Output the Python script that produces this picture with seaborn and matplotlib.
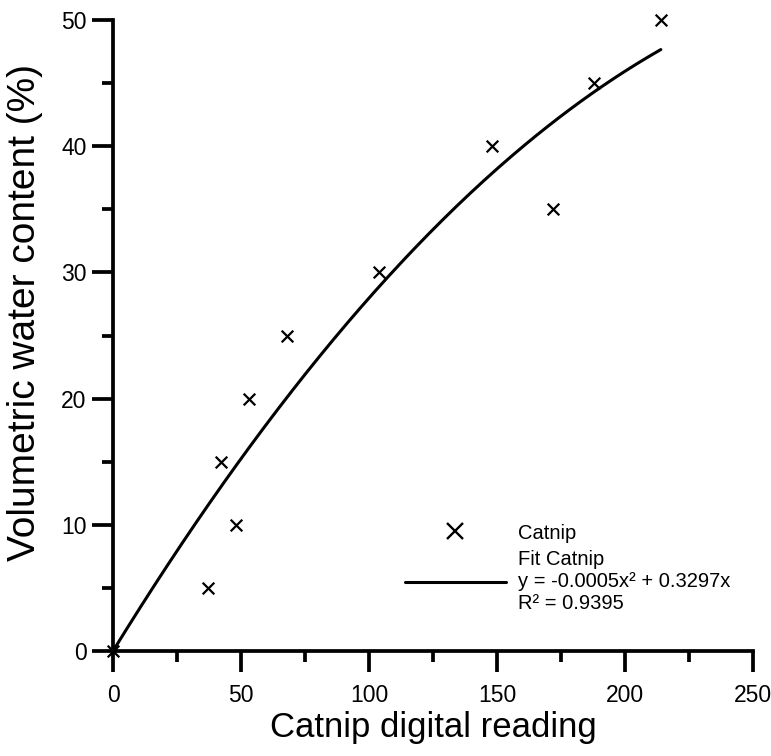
import numpy as np
import pandas as pd
import matplotlib
matplotlib.use("Agg")
import matplotlib.pyplot as plt
import seaborn as sns
from matplotlib.lines import Line2D
from matplotlib.ticker import MultipleLocator

# Data
reading = [0, 37, 42, 48, 53, 68, 104, 148, 172, 188, 214]
vwc = [0, 5, 15, 10, 20, 25, 30, 40, 35, 45, 50]
# Fit coefficients as printed in the legend
fit_a = -0.0005
fit_b = 0.3297
r2 = 0.9395
x_label = "Catnip digital reading"
y_label = "Volumetric water content (%)"

sns.set_style("white")
plt.rcParams['font.family'] = ['Liberation Sans', 'DejaVu Sans']
plt.rcParams['text.color'] = 'black'
plt.rcParams['axes.labelcolor'] = 'black'
plt.rcParams['xtick.color'] = 'black'
plt.rcParams['ytick.color'] = 'black'

fig = plt.figure(figsize=(7.71, 7.56), dpi=100)
ax = fig.add_axes([113/771, 1-651/756, 640/771, 631/756])

df = pd.DataFrame({"reading": reading, "vwc": vwc})
xf = np.linspace(0, max(reading), 200)
fit_df = pd.DataFrame({"x": xf, "y": fit_a*xf**2 + fit_b*xf})

sns.lineplot(data=fit_df, x="x", y="y", ax=ax, color="black", linewidth=2.2)
sns.scatterplot(data=df, x="reading", y="vwc", ax=ax, marker="x", color="black",
                s=70, linewidth=1.6, clip_on=False, zorder=5)

ax.set_xlim(0, 250)
ax.set_ylim(0, 50)
ax.xaxis.set_major_locator(MultipleLocator(50))
ax.xaxis.set_minor_locator(MultipleLocator(25))
ax.yaxis.set_major_locator(MultipleLocator(10))
ax.yaxis.set_minor_locator(MultipleLocator(5))

for s in ["top", "right"]:
    ax.spines[s].set_visible(False)
for s in ["left", "bottom"]:
    ax.spines[s].set_linewidth(2.7)
    ax.spines[s].set_color("black")

ax.tick_params(axis="both", which="major", direction="out", length=15, width=2.7,
               color="black", labelcolor="black", labelsize=16.5, bottom=True, left=True)
ax.tick_params(axis="both", which="minor", direction="out", length=8, width=2.7,
               color="black", bottom=True, left=True)
ax.tick_params(axis="x", which="major", pad=9)
ax.tick_params(axis="y", which="major", pad=4)

ax.set_xlabel(x_label, fontsize=25, labelpad=3, color="black")
ax.set_ylabel(y_label, fontsize=28, color="black")
ax.yaxis.set_label_coords(-0.11, 0.537)

handles = [
    Line2D([], [], marker="x", linestyle="none", color="black", markersize=12, markeredgewidth=1.7),
    Line2D([], [], color="black", linewidth=2.2),
]
labels = ["Catnip",
          f"Fit Catnip\ny = {fit_a:.4f}x\u00b2 + {fit_b:.4f}x\nR\u00b2 = {r2:.4f}"]
leg = ax.legend(handles, labels, loc="upper left", bbox_to_anchor=(0.456, 0.202),
                frameon=False, fontsize=14.5, handlelength=5.0, handletextpad=0.6,
                labelspacing=0.35, borderpad=0, borderaxespad=0)
for t in leg.get_texts():
    t.set_color("black")

fig.savefig("out.png", dpi=100)
